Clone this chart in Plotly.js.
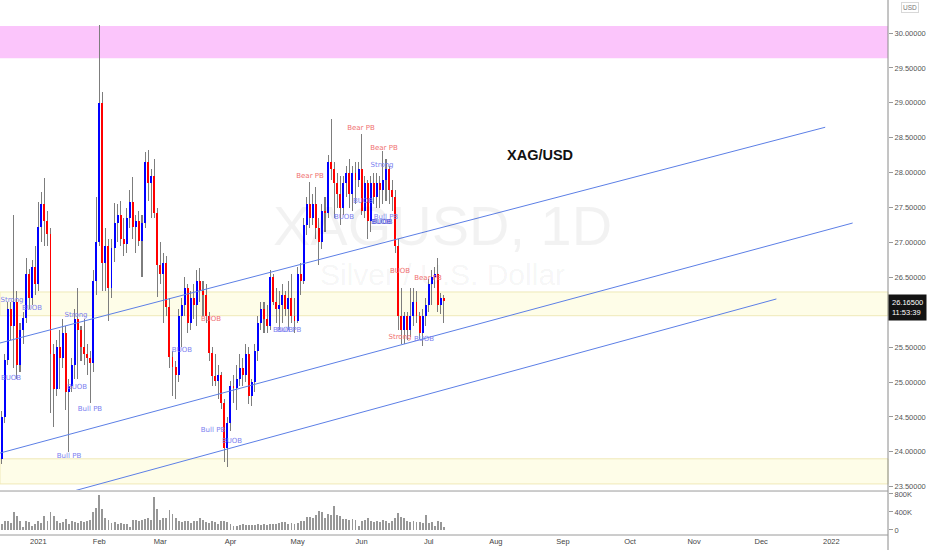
<!DOCTYPE html>
<html><head><meta charset="utf-8">
<script src="https://cdn.plot.ly/plotly-3.0.1.min.js"></script>
<style>html,body{margin:0;padding:0;background:#fff;}#chart{width:932px;height:550px;}</style>
</head><body><div id="chart"></div>
<script>
// ---- daily bars (XAG/USD, 1D) ----
const dates = [
'2020-12-15','2020-12-16','2020-12-17','2020-12-18','2020-12-21','2020-12-22','2020-12-23','2020-12-24','2020-12-28','2020-12-29','2020-12-30','2020-12-31',
'2021-01-04','2021-01-05','2021-01-06','2021-01-07','2021-01-08','2021-01-11','2021-01-12','2021-01-13','2021-01-14','2021-01-15','2021-01-18','2021-01-19','2021-01-20','2021-01-21','2021-01-22','2021-01-25','2021-01-26','2021-01-27','2021-01-28','2021-01-29',
'2021-02-01','2021-02-02','2021-02-03','2021-02-04','2021-02-05','2021-02-08','2021-02-09','2021-02-10','2021-02-11','2021-02-12','2021-02-15','2021-02-16','2021-02-17','2021-02-18','2021-02-19','2021-02-22','2021-02-23','2021-02-24','2021-02-25','2021-02-26',
'2021-03-01','2021-03-02','2021-03-03','2021-03-04','2021-03-05','2021-03-08','2021-03-09','2021-03-10','2021-03-11','2021-03-12','2021-03-15','2021-03-16','2021-03-17','2021-03-18','2021-03-19','2021-03-22','2021-03-23','2021-03-24','2021-03-25','2021-03-26','2021-03-29','2021-03-30','2021-03-31',
'2021-04-01','2021-04-02','2021-04-05','2021-04-06','2021-04-07','2021-04-08','2021-04-09','2021-04-12','2021-04-13','2021-04-14','2021-04-15','2021-04-16','2021-04-19','2021-04-20','2021-04-21','2021-04-22','2021-04-23','2021-04-26','2021-04-27','2021-04-28','2021-04-29','2021-04-30',
'2021-05-03','2021-05-04','2021-05-05','2021-05-06','2021-05-07','2021-05-10','2021-05-11','2021-05-12','2021-05-13','2021-05-14','2021-05-17','2021-05-18','2021-05-19','2021-05-20','2021-05-21','2021-05-24','2021-05-25','2021-05-26','2021-05-27','2021-05-28','2021-05-31',
'2021-06-01','2021-06-02','2021-06-03','2021-06-04','2021-06-07','2021-06-08','2021-06-09','2021-06-10','2021-06-11','2021-06-14','2021-06-15','2021-06-16','2021-06-17','2021-06-18','2021-06-21','2021-06-22','2021-06-23','2021-06-24','2021-06-25','2021-06-28','2021-06-29','2021-06-30',
'2021-07-01','2021-07-02','2021-07-05','2021-07-06','2021-07-07','2021-07-08'];

const open = [
23.90,24.50,25.32,26.05,25.80,26.15,25.25,25.75,25.92,26.55,26.20,26.65,
26.40,27.22,27.55,27.30,27.12,25.40,24.90,25.50,25.35,25.70,24.85,24.95,25.25,25.90,25.75,25.50,25.40,25.35,25.27,26.45,
27.00,29.00,26.70,26.95,26.35,26.92,27.28,27.40,27.05,26.98,27.35,27.58,27.22,27.30,27.02,27.28,28.15,27.85,27.95,27.42,
26.68,26.55,26.70,26.07,25.36,25.22,25.10,25.95,26.10,26.35,25.85,26.20,26.10,26.45,26.30,26.25,25.95,25.42,25.08,25.02,25.10,24.70,24.05,
24.42,24.95,24.92,25.05,25.20,25.10,25.40,24.80,25.00,25.45,25.85,26.05,25.90,25.80,26.50,26.15,26.05,26.10,26.25,26.05,26.20,25.95,
25.88,26.55,26.45,27.25,27.55,27.35,27.55,27.20,27.00,27.45,27.42,28.15,28.05,27.85,27.70,27.50,27.85,28.00,27.70,28.00,27.90,
28.05,27.45,27.85,27.30,27.85,27.65,27.85,27.75,27.90,28.05,27.75,27.65,26.95,25.95,25.75,25.95,25.75,25.95,26.15,25.95,25.70,25.95,
26.10,26.40,26.50,26.55,26.10,26.20];
const high = [
24.58,25.40,26.15,26.15,27.39,26.30,25.85,26.00,26.78,26.62,26.75,26.95,
27.58,27.72,27.92,27.45,27.20,25.55,25.60,25.75,25.90,25.80,25.05,25.35,26.05,26.35,25.80,25.90,25.55,25.45,26.60,27.65,
30.11,29.15,27.20,27.05,27.05,27.56,27.55,27.60,27.35,27.50,27.75,27.94,27.40,27.45,27.40,28.30,28.32,28.05,28.20,27.50,
27.00,26.85,26.80,26.20,25.45,25.30,26.05,26.20,26.50,26.40,26.30,26.40,26.60,26.63,26.45,26.40,26.00,25.50,25.40,25.25,25.15,24.75,24.50,
25.02,25.10,25.25,25.40,25.35,25.55,25.50,25.05,25.55,25.95,26.15,26.15,26.10,26.60,26.55,26.35,26.30,26.40,26.30,26.45,26.55,26.20,
26.65,26.70,27.35,27.65,27.86,27.70,27.80,27.35,27.55,27.65,28.25,28.77,28.15,28.00,27.95,27.95,28.10,28.20,28.10,28.15,28.15,
28.55,27.95,27.90,27.95,28.00,28.00,27.95,28.31,28.20,28.10,27.90,27.75,27.05,26.35,26.00,26.00,26.35,26.35,26.30,26.00,26.05,26.20,
26.48,26.60,26.65,26.78,26.28,26.25];
const low = [
23.82,24.42,25.25,25.60,25.20,25.05,25.15,25.55,25.85,26.05,26.10,26.25,
26.30,27.00,26.95,26.95,24.55,24.35,24.80,24.90,25.20,24.60,24.00,24.85,25.05,25.05,25.30,25.25,25.10,24.70,25.15,26.25,
26.95,26.30,26.30,25.88,26.20,26.72,27.00,26.95,26.80,26.85,27.20,27.05,26.85,26.95,26.50,27.20,27.60,27.35,27.35,26.22,
26.40,25.85,25.95,25.20,24.80,24.75,25.00,25.50,25.95,25.70,25.75,25.90,25.80,26.15,25.95,25.85,25.30,24.95,24.95,24.75,24.62,23.85,23.78,
24.30,24.70,24.60,24.95,24.95,25.00,24.68,24.65,24.85,25.30,25.75,25.70,25.70,25.75,26.10,25.85,25.75,25.85,25.95,25.75,25.85,25.70,
25.85,26.25,26.40,27.10,27.20,27.25,27.05,26.68,26.90,27.15,27.35,27.90,27.35,27.50,27.25,27.40,27.65,27.50,27.45,27.55,27.80,
27.40,27.35,27.05,27.15,27.55,27.50,27.50,27.55,27.60,27.55,27.45,26.85,25.75,25.55,25.55,25.60,25.65,25.80,25.85,25.62,25.52,25.80,
26.00,26.10,26.35,26.00,25.98,25.85];
const close = [
24.50,25.32,26.05,25.80,26.15,25.25,25.75,25.92,26.55,26.20,26.65,26.40,
27.22,27.55,27.30,27.12,25.40,24.90,25.50,25.35,25.70,24.85,24.95,25.25,25.90,25.75,25.50,25.40,25.35,25.27,26.45,27.00,
29.00,26.70,26.95,26.35,26.92,27.28,27.40,27.05,26.98,27.35,27.58,27.22,27.30,27.02,27.28,28.15,27.85,27.95,27.42,26.68,
26.55,26.70,26.07,25.36,25.22,25.10,25.95,26.10,26.35,25.85,26.20,26.10,26.45,26.30,26.25,25.95,25.42,25.08,25.02,25.10,24.70,24.05,24.42,
24.95,24.92,25.05,25.20,25.10,25.40,24.80,25.00,25.45,25.85,26.05,25.90,25.80,26.50,26.15,26.05,26.10,26.25,26.05,26.20,25.95,25.88,
26.55,26.45,27.25,27.55,27.35,27.55,27.20,27.00,27.45,27.42,28.15,28.05,27.85,27.70,27.50,27.85,28.00,27.70,28.00,27.90,28.05,
27.45,27.85,27.30,27.85,27.65,27.85,27.75,27.90,28.05,27.75,27.65,26.95,25.95,25.75,25.95,25.75,25.95,26.15,25.95,25.70,25.95,26.10,
26.40,26.50,26.55,26.10,26.20,26.165];
// volume, thousands
const volume = [
128,208,195,150,397,316,195,74,195,180,94,128,
208,148,309,195,397,316,195,161,175,235,141,195,175,161,208,182,208,229,397,484,
766,464,262,229,161,175,141,161,128,128,74,229,229,195,229,235,262,229,733,464,
229,262,276,444,363,262,208,182,208,208,161,195,208,262,215,175,161,208,175,141,208,195,182,
141,94,94,108,128,101,115,108,121,128,101,135,121,141,128,141,148,175,182,141,161,141,
161,195,208,282,296,276,330,430,410,276,363,330,531,330,316,249,249,229,242,222,94,
208,229,262,208,175,195,182,229,195,161,208,262,376,296,262,208,182,195,175,182,161,330,
161,182,81,195,182,60];

// ---- axis ticks ----
const monthTickDates = ['2021-01-04','2021-02-01','2021-03-01','2021-04-01','2021-05-03','2021-06-01','2021-07-01','2021-08-02','2021-09-01','2021-10-01','2021-11-01','2021-12-01','2022-01-03'];
const monthTickLabels = ['2021','Feb','Mar','Apr','May','Jun','Jul','Aug','Sep','Oct','Nov','Dec','2022'];
const priceTicks = [23.5,24,24.5,25,25.5,26,26.5,27,27.5,28,28.5,29,29.5,30];
const volumeTicks = [0,400,800];
const volumeTickLabels = ['0','400K','800K'];
const holidays = ['2020-12-25','2021-01-01'];

// ---- drawings: channel lines and zones ----
const channelStartDate = ['2020-12-14 12:00','2020-12-14 12:00','2021-01-04 12:00'];
const channelStartPrice = [25.554, 23.977, 23.30];
const channelEndDate = ['2021-12-30 12:00','2022-01-12 12:00','2021-12-08 12:00'];
const channelEndPrice = [28.65, 27.278, 26.19];
const zoneLow = [29.64, 25.95, 23.54];
const zoneHigh = [30.10, 26.29, 23.90];
const zoneKind = ['supply','demand','demand'];

// ---- signal labels ----
const labelDates = ['2020-12-18 21:00','2020-12-30 10:20','2020-12-18 13:10','2021-01-20 20:40','2021-01-21 04:34','2021-01-27 10:48','2021-01-18 13:40',
 '2021-03-24 02:53','2021-03-10 14:38','2021-03-24 18:43','2021-04-02 00:14','2021-04-26 17:31','2021-04-28 16:48',
 '2021-05-07 13:55','2021-06-01 07:12','2021-06-10 20:10','2021-06-10 04:34','2021-05-24 17:31','2021-06-01 23:02','2021-06-11 12:00','2021-06-09 20:38','2021-06-10 08:00',
 '2021-06-18 02:10','2021-07-01 06:29','2021-06-18 02:10','2021-06-29 23:02'];
const labelPrices = [26.17,26.05,25.06,25.96,24.93,24.61,23.93,
 25.90,25.46,24.31,24.15,25.74,25.74,
 27.95,28.64,28.35,28.11,27.36,27.59,27.36,27.29,27.29,
 26.58,26.48,25.64,25.62];
const labelTexts = ['Strong','BUOB','BUOB','Strong','BUOB','Bull PB','Bull PB',
 'BUOB','BUOB','Bull PB','BUOB','BUOB','Bull PB',
 'Bear PB','Bear PB','Bear PB','Strong','BUOB','BUOB','Bull PB','BUOB','BUOB',
 'BUOB','Bear PB','Strong','BUOB'];
const labelSide = ['bull','bull','bull','bull','bull','bull','bull',
 'bear','bull','bull','bull','bull','bull',
 'bear','bear','bear','bull','bull','bull','bull','bullDark','bullDark',
 'bear','bear','bear','bull'];

const lastPrice = close[close.length-1];
const countdown = '11:53:39';
const symbolTitle = 'XAG/USD';
const watermark1 = 'XAGUSD, 1D';
const watermark2 = 'Silver / U.S. Dollar';

// ---- build ----
const DAY = 86400000;
const xs = dates.map(d => d + ' 12:00');
const up = close.map((c,i) => c >= open[i]);
const bodyBase = open.map((o,i) => Math.min(o, close[i]));
const bodyLen = open.map((o,i) => Math.max(Math.abs(close[i]-o), 0.012));
const wickLen = high.map((h,i) => h - low[i]);

const labelColorMap = {bull:'#7b7ff0', bullDark:'#5558d8', bear:'#f07272'};
const FONT = 'Liberation Sans, Arial, sans-serif';

const traces = [
 {type:'bar', x:xs, base:low, y:wickLen, width:0.34*DAY, marker:{color:'#7d7d7d', line:{width:0}}, xaxis:'x', yaxis:'y', hoverinfo:'skip'},
 {type:'bar', x:xs, base:bodyBase, y:bodyLen, width:0.64*DAY, marker:{color:up.map(u => u ? '#0000ff' : '#ff0000'), line:{width:0}}, xaxis:'x', yaxis:'y', hoverinfo:'skip'},
 {type:'bar', x:xs, y:volume, width:0.62*DAY, marker:{color:'rgba(125,125,125,0.8)', line:{width:0}}, xaxis:'x', yaxis:'y2', hoverinfo:'skip'}
];
for (let i = 0; i < channelStartDate.length; i++) {
  traces.push({type:'scatter', mode:'lines', x:[channelStartDate[i], channelEndDate[i]], y:[channelStartPrice[i], channelEndPrice[i]],
    line:{color:'#5c7fe6', width:1}, xaxis:'x', yaxis:'y', hoverinfo:'skip'});
}
traces.push({type:'scatter', mode:'text', x:labelDates, y:labelPrices, text:labelTexts,
  textfont:{family:'DejaVu Sans, sans-serif', size:7, color:labelSide.map(s => labelColorMap[s])},
  xaxis:'x', yaxis:'y', hoverinfo:'skip', cliponaxis:true});

const shapes = [];
zoneLow.forEach((lo,i) => {
  const supply = zoneKind[i] === 'supply';
  shapes.push({type:'rect', xref:'paper', yref:'y', x0:0, x1:1, y0:lo, y1:zoneHigh[i], layer:'below',
    fillcolor: supply ? '#fbc5fb' : '#fefde8', line:{width: supply ? 0 : 1, color:'#efe9b8'}});
});
shapes.push({type:'line', xref:'paper', yref:'paper', x0:1, x1:1, y0:-0.03, y1:1, line:{color:'#8a8a8a', width:1}});
shapes.push({type:'line', xref:'paper', yref:'paper', x0:0, x1:1, y0:0.0822, y1:0.0822, line:{color:'#9a9a9a', width:1}});
shapes.push({type:'line', xref:'paper', yref:'paper', x0:0, x1:1, y0:0, y1:0, line:{color:'#9a9a9a', width:1}});

const annotations = [
 {xref:'paper', yref:'paper', x:0.498, y:0.578, text:watermark1, showarrow:false, xanchor:'center', yanchor:'middle',
  font:{family:FONT, size:56, color:'rgba(0,0,0,0.05)'}},
 {xref:'paper', yref:'paper', x:0.498, y:0.486, text:watermark2, showarrow:false, xanchor:'center', yanchor:'middle',
  font:{family:FONT, size:30, color:'rgba(0,0,0,0.05)'}},
 {xref:'paper', yref:'paper', x:0.608, y:0.710, text:'<b>'+symbolTitle+'</b>', showarrow:false, xanchor:'center', yanchor:'middle',
  font:{family:FONT, size:14.5, color:'#111'}},
 {xref:'paper', yref:'paper', x:1.0248, y:0.986, text:'USD', showarrow:false, xanchor:'center', yanchor:'middle',
  font:{family:FONT, size:6.5, color:'#777'}, bordercolor:'#d8d8d8', borderwidth:1, borderpad:1, bgcolor:'#fff'},
 {xref:'paper', yref:'y', x:1, y:lastPrice, yshift:-7, text:lastPrice.toFixed(5)+'<br>'+countdown, showarrow:false, xanchor:'left', yanchor:'middle',
  align:'left', font:{family:FONT, size:7.5, color:'#fff'}, bgcolor:'#131313', borderpad:3}
];

const layout = {
  width:932, height:550, margin:{l:0, r:44, t:0, b:15},
  paper_bgcolor:'#fff', plot_bgcolor:'#fff', showlegend:false, barmode:'overlay', bargap:0,
  font:{family:FONT, size:7.5, color:'#555'},
  xaxis:{domain:[0,1], anchor:'y2', type:'date', range:['2020-12-14 22:34','2022-01-28 02:10'],
    rangebreaks:[{bounds:['sat','mon']},{values:holidays}],
    tickmode:'array', tickvals:monthTickDates.map(d => d + ' 12:00'), ticktext:monthTickLabels,
    showgrid:false, zeroline:false, showline:false, ticks:'', tickfont:{family:FONT, size:7.5, color:'#444'}},
  yaxis:{domain:[0.0841,1], anchor:'x', side:'right', range:[23.453,30.473], tickmode:'array', tickvals:priceTicks,
    ticktext:priceTicks.map(v => v.toFixed(5)), showgrid:false, zeroline:false, showline:false,
    ticks:'outside', ticklen:4, tickcolor:'#999', tickfont:{family:FONT, size:7.5, color:'#555'}},
  yaxis2:{domain:[0,0.0804], anchor:'x', side:'right', range:[-111,844], tickmode:'array', tickvals:volumeTicks,
    ticktext:volumeTickLabels, showgrid:false, zeroline:false, showline:false,
    ticks:'outside', ticklen:4, tickcolor:'#999', tickfont:{family:FONT, size:7.5, color:'#555'}},
  shapes:shapes, annotations:annotations
};

Plotly.newPlot('chart', traces, layout, {staticPlot:true, displayModeBar:false});
</script></body></html>
